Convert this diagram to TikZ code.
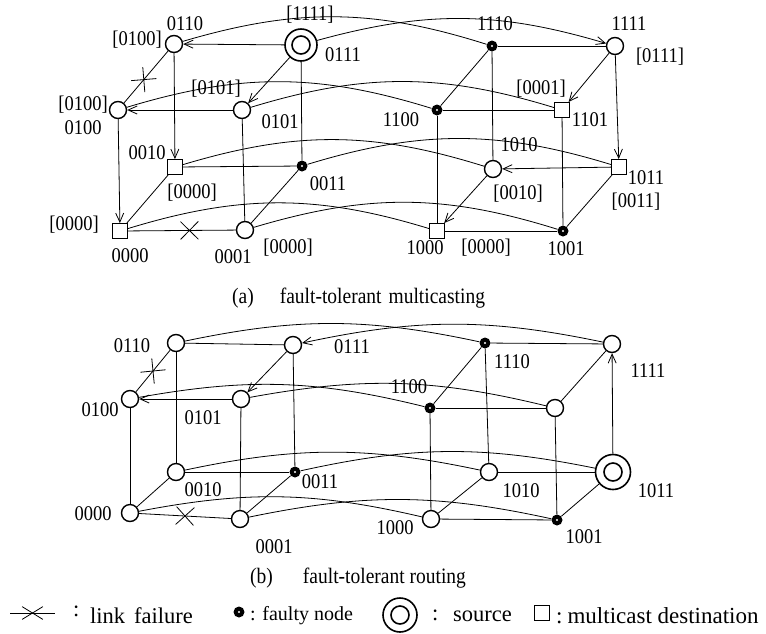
\documentclass[tikz,border=0pt]{standalone}
\usepackage{fontspec}
\usepackage{graphicx}
\setmainfont{Liberation Serif}
\usetikzlibrary{arrows.meta,shapes.misc}
\newcommand\tallt[1]{\scalebox{1}[1.13]{#1}}
\begin{document}
\begin{tikzpicture}[x=1pt,y=-1pt,
  edge/.style={line width=0.8pt},
  arr/.style={edge,-{Straight Barb[length=9pt,width=8pt,line width=0.8pt]}},
  linka/.style={edge,bend left=17},
  linkb/.style={edge,bend left=12},
  plain/.style={circle,draw,line width=1.4pt,minimum size=17pt,inner sep=0pt,fill=white},
  faulty/.style={circle,fill=black,minimum size=11pt,inner sep=0pt,
    path picture={\fill[white] (path picture bounding box.center) circle (1.1pt);}},
  dest/.style={rectangle,draw,line width=0.9pt,minimum size=15pt,inner sep=0pt,fill=white},
  src/.style={circle,draw,line width=1.6pt,minimum size=32pt,inner sep=0pt,fill=white,
    path picture={\draw[line width=1.6pt] (path picture bounding box.center) circle (9pt);}},
  lbl/.style={font=\fontsize{18.5}{20}\selectfont,inner sep=0pt},
  captxt/.style={font=\fontsize{19.5}{22}\selectfont,inner sep=0pt,anchor=west},
  legtxt/.style={font=\fontsize{22.5}{24}\selectfont,inner sep=0pt,anchor=west},
  fail/.style={sloped,cross out,draw,line width=0.8pt,minimum size=17pt,inner sep=0pt},
]
\useasboundingbox (0,0) rectangle (766,633);

% ---------------- (a) nodes ----------------
\node[dest]   (a0000) at (120,231) {};
\node[plain]  (a0001) at (245,230) {};
\node[dest]   (a0010) at (175,167) {};
\node[faulty] (a0011) at (302,166) {};
\node[plain]  (a0100) at (118,110) {};
\node[plain]  (a0101) at (242,110) {};
\node[plain]  (a0110) at (174,44) {};
\node[src]    (a0111) at (301,45) {};
\node[dest]   (a1000) at (437,231) {};
\node[faulty] (a1001) at (563,231) {};
\node[plain]  (a1010) at (493,169) {};
\node[dest]   (a1011) at (619,167) {};
\node[faulty] (a1100) at (437,110) {};
\node[dest]   (a1101) at (562,110) {};
\node[faulty] (a1110) at (492,46) {};
\node[plain]  (a1111) at (615,46) {};

% (a) labels
\node[lbl] (la1) at (185,24) {\tallt{0110}};
\node[lbl] (la2) at (137,40) {\tallt{[0100]}};
\node[lbl] (la3) at (310,15) {\tallt{[1111]}};
\node[lbl] (la4) at (343,55) {\tallt{0111}};
\node[lbl] (la5) at (83,105) {\tallt{[0100]}};
\node[lbl] (la6) at (83,128) {\tallt{0100}};
\node[lbl] (la7) at (216,89) {\tallt{[0101]}};
\node[lbl] (la8) at (280,122) {\tallt{0101}};
\node[lbl] (la9) at (147,153) {\tallt{0010}};
\node[lbl] (la10) at (192,193) {\tallt{[0000]}};
\node[lbl] (la11) at (328,184) {\tallt{0011}};
\node[lbl] (la12) at (74,225) {\tallt{[0000]}};
\node[lbl] (la13) at (130,256) {\tallt{0000}};
\node[lbl] (la14) at (233,257) {\tallt{0001}};
\node[lbl] (la15) at (288,248) {\tallt{[0000]}};
\node[lbl] (la16) at (495,24) {\tallt{1110}};
\node[lbl] (la17) at (629,24) {\tallt{1111}};
\node[lbl] (la18) at (660,57) {\tallt{[0111]}};
\node[lbl] (la19) at (541,89) {\tallt{[0001]}};
\node[lbl] (la20) at (590,120) {\tallt{1101}};
\node[lbl] (la21) at (401,120) {\tallt{1100}};
\node[lbl] (la22) at (519,145) {\tallt{1010}};
\node[lbl] (la23) at (518,194) {\tallt{[0010]}};
\node[lbl] (la24) at (646,178) {\tallt{1011}};
\node[lbl] (la25) at (636,202) {\tallt{[0011]}};
\node[lbl] (la26) at (425,248) {\tallt{1000}};
\node[lbl] (la27) at (486,248) {\tallt{[0000]}};
\node[lbl] (la28) at (566,249) {\tallt{1001}};

% (a) edges
\draw[arr] (a0111) -- (a0110);
\draw[arr] (a0111) -- (a0101);
\draw[arr] (a0101) -- (a0100);
\draw[arr] (a0110) -- (a0010);
\draw[arr] (a0100) -- (a0000);
\draw[edge] (a0110) -- node[fail,pos=0.55] (xa1) {} (a0100);
\draw[edge] (a0000) -- node[fail,pos=0.57] (xa2) {} (a0001);
\draw[edge] (a0111) -- (a0011);
\draw[edge] (a0010) -- (a0011);
\draw[edge] (a0010) -- (a0000);
\draw[edge] (a0101) -- (a0001);
\draw[edge] (a0011) -- (a0001);
\draw[edge] (a1110) -- (a1111);
\draw[edge] (a1110) -- (a1100);
\draw[edge] (a1110) -- (a1010);
\draw[edge] (a1100) -- (a1101);
\draw[edge] (a1100) -- (a1000);
\draw[edge] (a1101) -- (a1001);
\draw[edge] (a1000) -- (a1001);
\draw[edge] (a1011) -- (a1001);
\draw[arr] (a1111) -- (a1101);
\draw[arr] (a1111) -- (a1011);
\draw[arr] (a1011) -- (a1010);
\draw[arr] (a1010) -- (a1000);
\draw[linka] (a0110) to (a1110);
\draw[arr,bend left=16] (a0111) to (a1111);
\draw[linka] (a0100) to (a1100);
\draw[linka] (a0101) to (a1101);
\draw[linka] (a0010) to (a1010);
\draw[linka] (a0011) to (a1011);
\draw[linka] (a0000) to (a1000);
\draw[linka] (a0001) to (a1001);

\node[captxt] (capa) at (232,298) {\tallt{(a)\hspace{26pt}fault-tolerant\hspace{7pt}multicasting}};

% ---------------- (b) nodes ----------------
\node[plain]  (b0000) at (130,513) {};
\node[plain]  (b0001) at (240,519) {};
\node[plain]  (b0010) at (176,472) {};
\node[faulty] (b0011) at (295,472) {};
\node[plain]  (b0100) at (130,399) {};
\node[plain]  (b0101) at (241,399) {};
\node[plain]  (b0110) at (176,343) {};
\node[plain]  (b0111) at (293,345) {};
\node[plain]  (b1000) at (431,519) {};
\node[faulty] (b1001) at (557,520) {};
\node[plain]  (b1010) at (489,472) {};
\node[src,minimum size=35pt] (b1011) at (613,472) {};
\node[faulty] (b1100) at (430,408) {};
\node[plain]  (b1101) at (555,408) {};
\node[faulty] (b1110) at (485,343) {};
\node[plain]  (b1111) at (612,344) {};

% (b) labels
\node[lbl] (lb1) at (132,346) {\tallt{0110}};
\node[lbl] (lb2) at (352,347) {\tallt{0111}};
\node[lbl] (lb3) at (100,410) {\tallt{0100}};
\node[lbl] (lb4) at (203,418) {\tallt{0101}};
\node[lbl] (lb5) at (203,490) {\tallt{0010}};
\node[lbl] (lb6) at (320,482) {\tallt{0011}};
\node[lbl] (lb7) at (93,514) {\tallt{0000}};
\node[lbl] (lb8) at (274,547) {\tallt{0001}};
\node[lbl] (lb9) at (512,362) {\tallt{1110}};
\node[lbl] (lb10) at (648,371) {\tallt{1111}};
\node[lbl] (lb11) at (409,387) {\tallt{1100}};
\node[lbl] (lb12) at (521,491) {\tallt{1010}};
\node[lbl] (lb13) at (656,491) {\tallt{1011}};
\node[lbl] (lb14) at (395,528) {\tallt{1000}};
\node[lbl] (lb15) at (584,537) {\tallt{1001}};

% (b) edges
\draw[edge] (b0110) -- (b0111);
\draw[edge] (b0110) -- node[fail,pos=0.5] (xb1) {} (b0100);
\draw[edge] (b0110) -- (b0010);
\draw[arr] (b0111) -- (b0101);
\draw[edge] (b0111) -- (b0011);
\draw[arr] (b0101) -- (b0100);
\draw[edge] (b0100) -- (b0000);
\draw[edge] (b0101) -- (b0001);
\draw[edge] (b0010) -- (b0011);
\draw[edge] (b0010) -- (b0000);
\draw[edge] (b0011) -- (b0001);
\draw[edge] (b0000) -- node[fail,pos=0.5] (xb2) {} (b0001);
\draw[edge] (b1110) -- (b1111);
\draw[edge] (b1110) -- (b1100);
\draw[edge] (b1110) -- (b1010);
\draw[edge] (b1100) -- (b1101);
\draw[edge] (b1100) -- (b1000);
\draw[edge] (b1101) -- (b1111);
\draw[edge] (b1101) -- (b1001);
\draw[edge] (b1010) -- (b1011);
\draw[edge] (b1010) -- (b1000);
\draw[edge] (b1000) -- (b1001);
\draw[edge] (b1011) -- (b1001);
\draw[arr] (b1011) -- (b1111);
\draw[linkb] (b0110) to (b1110);
\draw[arr,bend right=12] (b1111) to (b0111);
\draw[linkb] (b0100) to (b1100);
\draw[linkb] (b0101) to (b1101);
\draw[linkb] (b0010) to (b1010);
\draw[linkb] (b0011) to (b1011);
\draw[linkb] (b0000) to (b1000);
\draw[linkb] (b0001) to (b1001);

\node[captxt] (capb) at (250,578) {\tallt{(b)\hspace{30pt}fault-tolerant routing}};

% ---------------- legend ----------------
\coordinate (lg1) at (10,613);
\coordinate (lg2) at (55,613);
\draw[edge] (lg1) -- node[cross out,draw,line width=0.8pt,minimum width=20pt,minimum height=12pt,inner sep=0pt] (lgx) {} (lg2);
\node[legtxt] (lgt1) at (73,611) {:};
\node[legtxt] (lgt2) at (90,616) {link\hspace{9pt}failure};
\node[faulty] (lgf) at (239,612) {};
\node[captxt,font=\fontsize{20}{22}\selectfont] (lgt3) at (250,616) {: faulty node};
\node[src,minimum size=34pt] (lgs) at (400,615) {};
\node[legtxt] (lgt4) at (432,615) {:};
\node[legtxt] (lgt5) at (453,616) {source};
\node[dest] (lgd) at (542,613) {};
\node[legtxt,font=\fontsize{23}{25}\selectfont] (lgt6) at (556,616) {:\hspace{5pt}multicast destination};
\end{tikzpicture}
\end{document}
